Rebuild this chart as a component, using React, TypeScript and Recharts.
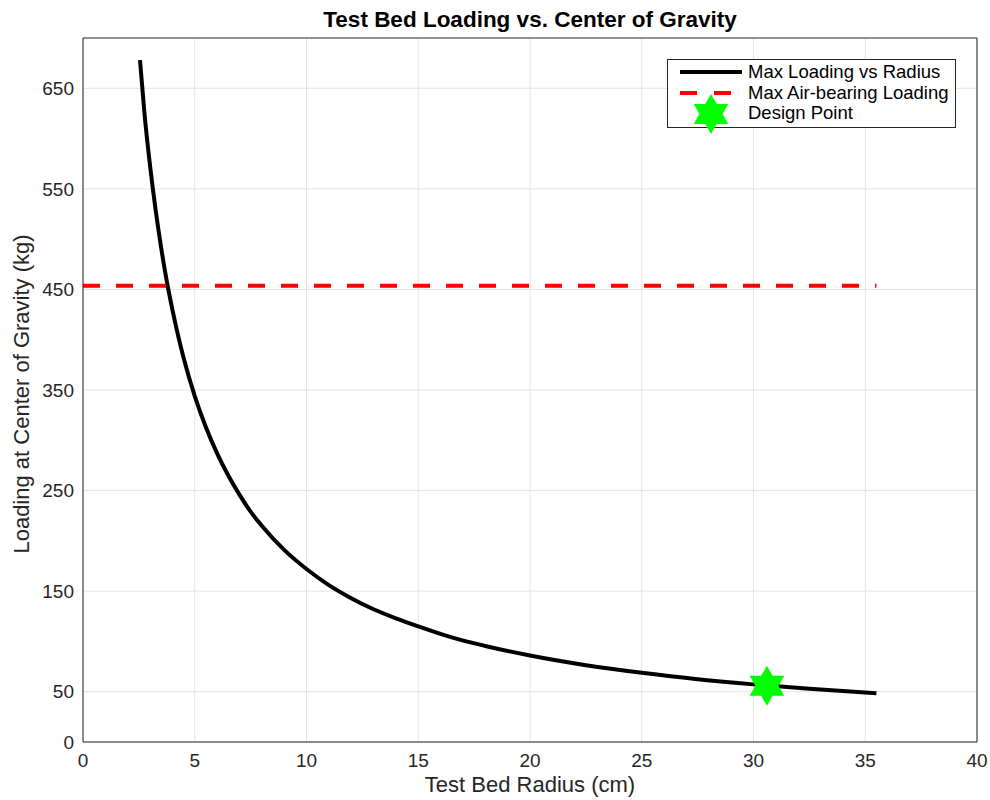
import React from 'react';
import {
  ComposedChart,
  Line,
  Scatter,
  XAxis,
  YAxis,
  CartesianGrid,
  Legend,
} from 'recharts';

// values
const radius = [2.55, 2.75, 3, 3.25, 3.5, 3.75, 4, 4.5, 5, 5.5, 6, 6.5, 7, 7.5, 8, 9, 10, 11, 12, 13, 14, 15, 16.5, 18, 20, 22.5, 25, 27.5, 30, 32.5, 35.5];
const maxLoading = [678, 625, 573, 529, 491, 458, 430, 382, 344, 313, 287, 265, 246, 229, 215, 191, 172, 156, 143, 132, 123, 115, 104, 95.5, 86, 76.4, 68.8, 62.5, 57.3, 52.9, 48.4];

const airBearingRadius = [0, 35.5];
const airBearingLoading = [453.6, 453.6];

const designRadius = [30.6];
const designLoading = [56];

const xTicks = [0, 5, 10, 15, 20, 25, 30, 35, 40];
const yTicks = [0, 50, 150, 250, 350, 450, 550, 650];

const curveData = radius.map((r, i) => ({ r, v: maxLoading[i] }));
const airData = airBearingRadius.map((r, i) => ({ r, v: airBearingLoading[i] }));
const designData = designRadius.map((r, i) => ({ r, v: designLoading[i] }));

const FONT = '"Liberation Sans", Arial, Helvetica, sans-serif';
const AXIS = '#262626';
const GRID = '#e3e3e3';
const GREEN = '#00ff00';

const hexPoints = (cx: number, cy: number, R: number) => {
  const r = R / Math.sqrt(3);
  const pts: string[] = [];
  for (let k = 0; k < 12; k++) {
    const a = ((-90 + k * 30) * Math.PI) / 180;
    const rad = k % 2 === 0 ? R : r;
    pts.push(`${cx + rad * Math.cos(a)},${cy + rad * Math.sin(a)}`);
  }
  return pts.join(' ');
};

const Hexagram = (props: any) => {
  const { cx, cy } = props;
  if (cx == null || cy == null) return null;
  return <polygon points={hexPoints(cx, cy, 20)} fill={GREEN} stroke="none" />;
};

const LegendBox = () => (
  <div
    style={{
      position: 'absolute',
      left: 667,
      top: 59,
      width: 287,
      height: 67,
      border: `1px solid ${AXIS}`,
      background: '#fff',
      fontFamily: FONT,
      fontSize: 18.5,
      color: '#000',
    }}
  >
    {[
      { label: 'Max Loading vs Radius', kind: 'line' },
      { label: 'Max Air-bearing Loading', kind: 'dash' },
      { label: 'Design Point', kind: 'star' },
    ].map((item, i) => (
      <div key={item.label} style={{ position: 'absolute', left: 0, top: 2 + i * 20.5, height: 20, display: 'flex', alignItems: 'center' }}>
        <svg width={80} height={20} style={{ overflow: 'visible' }}>
          {item.kind === 'line' && <line x1={12} x2={74} y1={10} y2={10} stroke="#000" strokeWidth={4} />}
          {item.kind === 'dash' && (
            <line x1={12} x2={74} y1={10} y2={10} stroke="#ff0000" strokeWidth={4} strokeDasharray="17 17" />
          )}
          {item.kind === 'star' && <polygon points={hexPoints(43, 11, 20)} fill={GREEN} />}
        </svg>
        <span style={{ lineHeight: '20px', whiteSpace: 'nowrap' }}>{item.label}</span>
      </div>
    ))}
  </div>
);

const tickStyle = { fill: AXIS, fontSize: 19, fontFamily: FONT };
const noLabel = () => '';

export default function App() {
  return (
    <div style={{ position: 'absolute', left: 0, top: 0, width: 990, height: 800, background: '#fff', fontFamily: FONT }}>
      <div
        style={{
          position: 'absolute',
          left: 83,
          width: 894,
          top: 7,
          textAlign: 'center',
          fontWeight: 'bold',
          fontSize: 22.5,
          color: '#000',
        }}
      >
        Test Bed Loading vs. Center of Gravity
      </div>
      <div
        style={{
          position: 'absolute',
          left: 83,
          width: 894,
          top: 772,
          textAlign: 'center',
          fontSize: 22,
          color: AXIS,
        }}
      >
        Test Bed Radius (cm)
      </div>
      <div
        style={{
          position: 'absolute',
          left: 22,
          top: 394,
          transform: 'translate(-50%, -50%) rotate(-90deg)',
          fontSize: 22,
          color: AXIS,
          whiteSpace: 'nowrap',
        }}
      >
        Loading at Center of Gravity (kg)
      </div>
      <ComposedChart width={990} height={800} margin={{ top: 38, right: 13, bottom: 0, left: 0 }}>
        <CartesianGrid
          xAxisId="b"
          yAxisId="l"
          stroke={GRID}
          verticalValues={xTicks}
          horizontalValues={yTicks}
        />
        <XAxis
          xAxisId="b"
          type="number"
          dataKey="r"
          domain={[0, 40]}
          ticks={xTicks}
          height={58}
          tickLine={false}
          tickSize={0}
          tickMargin={12}
          axisLine={{ stroke: AXIS }}
          tick={tickStyle}
        />
        <XAxis
          xAxisId="bm"
          type="number"
          dataKey="r"
          domain={[0, 40]}
          ticks={xTicks}
          height={1}
          mirror
          tickSize={9}
          tickLine={{ stroke: AXIS }}
          axisLine={false}
          tickFormatter={noLabel}
        />
        <XAxis
          xAxisId="t"
          orientation="top"
          type="number"
          dataKey="r"
          domain={[0, 40]}
          ticks={xTicks}
          height={1}
          mirror
          tickSize={9}
          tickLine={{ stroke: AXIS }}
          axisLine={{ stroke: AXIS }}
          tickFormatter={noLabel}
        />
        <YAxis
          yAxisId="l"
          type="number"
          domain={[0, 700]}
          ticks={yTicks}
          width={83}
          tickLine={false}
          tickSize={0}
          tickMargin={9}
          axisLine={{ stroke: AXIS }}
          tick={tickStyle}
        />
        <YAxis
          yAxisId="lm"
          type="number"
          domain={[0, 700]}
          ticks={yTicks}
          width={1}
          mirror
          tickSize={9}
          tickLine={{ stroke: AXIS }}
          axisLine={false}
          tickFormatter={noLabel}
        />
        <YAxis
          yAxisId="r"
          orientation="right"
          type="number"
          domain={[0, 700]}
          ticks={yTicks}
          width={1}
          mirror
          tickSize={9}
          tickLine={{ stroke: AXIS }}
          axisLine={{ stroke: AXIS }}
          tickFormatter={noLabel}
        />
        <Line
          xAxisId="b"
          yAxisId="l"
          data={curveData}
          dataKey="v"
          type="monotone"
          stroke="#000"
          strokeWidth={4}
          dot={false}
          isAnimationActive={false}
        />
        <Line
          xAxisId="b"
          yAxisId="l"
          data={airData}
          dataKey="v"
          type="linear"
          stroke="#ff0000"
          strokeWidth={4}
          strokeDasharray="17 16"
          dot={false}
          isAnimationActive={false}
        />
        <Scatter
          xAxisId="b"
          yAxisId="l"
          data={designData}
          dataKey="v"
          shape={<Hexagram />}
          isAnimationActive={false}
        />
        <Legend content={() => <LegendBox />} wrapperStyle={{ position: 'absolute', left: 0, top: 0, width: 0, height: 0 }} />
      </ComposedChart>
    </div>
  );
}
